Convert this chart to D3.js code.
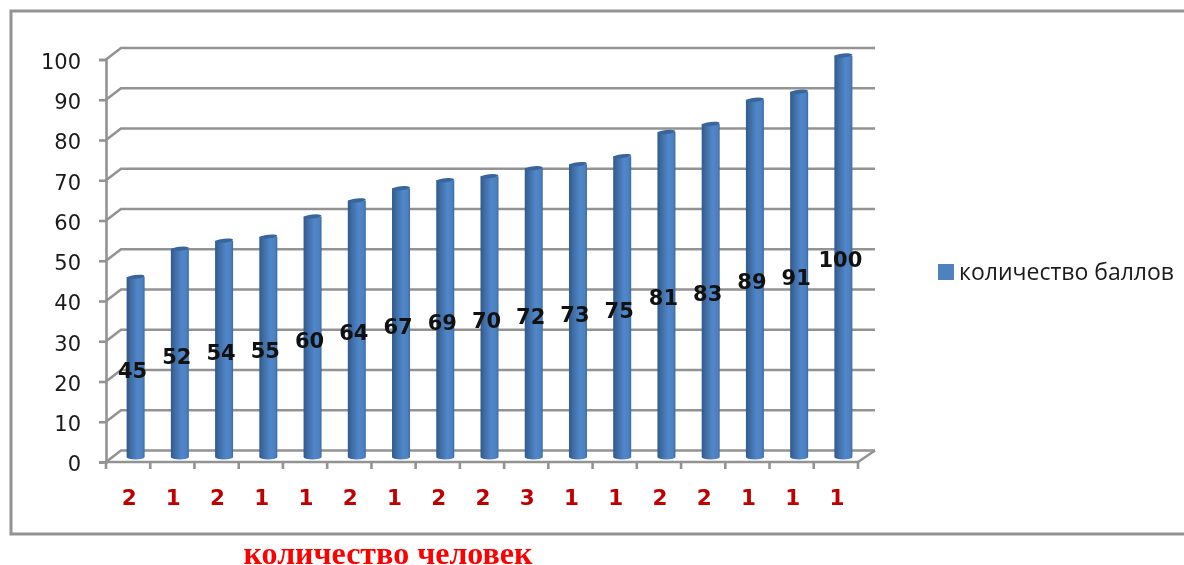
<!DOCTYPE html>
<html>
<head>
<meta charset="utf-8">
<script src="https://cdn.jsdelivr.net/npm/d3@7"></script>
<style>
  body { margin: 0; background: #fff; overflow: hidden; }
  svg { display: block; filter: blur(0.4px); }
  text { font-family: "DejaVu Sans", sans-serif; }
</style>
</head>
<body>
<div id="chart"></div>
<script>
// values
const scores = [45, 52, 54, 55, 60, 64, 67, 69, 70, 72, 73, 75, 81, 83, 89, 91, 100];
const people = [2, 1, 2, 1, 1, 2, 1, 2, 2, 3, 1, 1, 2, 2, 1, 1, 1];
const yTicks = [0, 10, 20, 30, 40, 50, 60, 70, 80, 90, 100];
const seriesName = "количество баллов";
const xTitle = "количество человек";

const svgWidth = 1184;
const svgHeight = 565;

// front plane of the fake 3d box
const plot = { left: 106, right: 858, top: 59.5, bottom: 462 };
// how far the back wall is shifted from the front
const depth = { x: 15, y: -11.5 };
// bars stand in the middle of the floor
const barShift = { x: 7.5, y: -4 };

const svg = d3.select("#chart")
  .append("svg")
  .attr("width", svgWidth)
  .attr("height", svgHeight);

const defs = svg.append("defs");

const barGrad = defs.append("linearGradient").attr("id", "barGrad");
barGrad.append("stop").attr("offset", "0%").attr("stop-color", "#315a8c");
barGrad.append("stop").attr("offset", "28%").attr("stop-color", "#4270a8");
barGrad.append("stop").attr("offset", "62%").attr("stop-color", "#5087cb");
barGrad.append("stop").attr("offset", "88%").attr("stop-color", "#4c80bf");
barGrad.append("stop").attr("offset", "100%").attr("stop-color", "#3a6a9f");

const xScale = d3.scaleBand()
  .domain(d3.range(scores.length))
  .range([plot.left, plot.right]);

const yScale = d3.scaleLinear()
  .domain([0, 100])
  .range([plot.bottom, plot.top]);

const gray = "#939393";

// outer frame, runs off the right side of the page
svg.append("path")
  .attr("d", "M" + svgWidth + ",11H11V534H" + svgWidth)
  .attr("fill", "none")
  .attr("stroke", gray)
  .attr("stroke-width", 3);

// gridlines with the little diagonal from the front axis to the back wall
const gridGroup = svg.append("g");
gridGroup.selectAll("path")
  .data(yTicks)
  .enter()
  .append("path")
  .attr("d", d => `M${plot.left},${yScale(d)}l${depth.x},${depth.y}H${plot.right + depth.x + 2}`)
  .attr("fill", "none")
  .attr("stroke", gray)
  .attr("stroke-width", 2.6);

// floor right edge
svg.append("line")
  .attr("x1", plot.right)
  .attr("y1", plot.bottom)
  .attr("x2", plot.right + depth.x + 2)
  .attr("y2", plot.bottom + depth.y)
  .attr("stroke", gray)
  .attr("stroke-width", 2.6);

// y axis
const yAxis = svg.append("g")
  .attr("transform", `translate(${plot.left},0)`)
  .call(d3.axisLeft(yScale).tickValues(yTicks).tickSize(7).tickPadding(18));
yAxis.selectAll("line").attr("stroke", gray).attr("stroke-width", 2.6);
yAxis.select(".domain").attr("stroke", gray).attr("stroke-width", 2.6);
yAxis.selectAll("text")
  .attr("font-size", 21)
  .attr("fill", "#1a1a1a")
  .attr("dy", "0.42em")
  .style("font-family", "'DejaVu Sans', sans-serif");

// x axis, ticks sit between the categories so it is done by hand
const xAxis = svg.append("g");
xAxis.append("line")
  .attr("x1", plot.left).attr("x2", plot.right)
  .attr("y1", plot.bottom).attr("y2", plot.bottom)
  .attr("stroke", gray).attr("stroke-width", 2.6);
xAxis.selectAll(".tick")
  .data(d3.range(scores.length + 1))
  .enter()
  .append("line")
  .attr("class", "tick")
  .attr("x1", d => plot.left + d * xScale.step())
  .attr("x2", d => plot.left + d * xScale.step())
  .attr("y1", plot.bottom)
  .attr("y2", plot.bottom + 7)
  .attr("stroke", gray)
  .attr("stroke-width", 2.6);

xAxis.selectAll(".people")
  .data(people)
  .enter()
  .append("text")
  .attr("class", "people")
  .attr("x", (d, i) => xScale(i) + xScale.bandwidth() / 2 + 1)
  .attr("y", 505)
  .attr("text-anchor", "middle")
  .attr("font-size", 21.5)
  .attr("font-weight", "bold")
  .attr("fill", "#c00000")
  .text(d => d);

// cylinders
const barWidth = 18;
const barsGroup = svg.append("g");
const barX = i => xScale(i) + xScale.bandwidth() / 2 + barShift.x;
const barY = v => yScale(v) + barShift.y;

barsGroup.selectAll("path.bar")
  .data(scores)
  .enter()
  .append("path")
  .attr("class", "bar")
  .attr("d", (d, i) => {
    const l = barX(i) - barWidth / 2;
    return `M${l},${barY(d)}V${barY(0) - 1}` +
      `A${barWidth / 2},2.4 0 0 0 ${l + barWidth},${barY(0) - 1}V${barY(d)}Z`;
  })
  .attr("fill", "url(#barGrad)");

barsGroup.selectAll("ellipse")
  .data(scores)
  .enter()
  .append("ellipse")
  .attr("cx", (d, i) => barX(i))
  .attr("cy", d => barY(d))
  .attr("rx", barWidth / 2)
  .attr("ry", 2)
  .attr("transform", (d, i) => `rotate(-6 ${barX(i)} ${barY(d)})`)
  .attr("fill", "#37659c");

// value labels in the middle of each bar
svg.append("g").selectAll("text")
  .data(scores)
  .enter()
  .append("text")
  .attr("x", (d, i) => barX(i) - 3)
  .attr("y", d => (barY(d) + barY(0)) / 2 + 10.5)
  .attr("text-anchor", "middle")
  .attr("font-size", 21)
  .attr("font-weight", "bold")
  .attr("fill", "#111")
  .text(d => d);

// legend
svg.append("rect")
  .attr("x", 938).attr("y", 264)
  .attr("width", 16).attr("height", 16)
  .attr("fill", "#4f81bd");
svg.append("text")
  .attr("x", 959).attr("y", 280)
  .attr("font-size", 23)
  .attr("fill", "#1a1a1a")
  .style("font-family", "'Open Sans', sans-serif")
  .text(seriesName);

// axis title, the reference has it touching the bottom edge too
svg.append("text")
  .attr("x", 388).attr("y", 564)
  .attr("text-anchor", "middle")
  .attr("font-size", 32)
  .attr("font-weight", "bold")
  .attr("fill", "#ff0000")
  .style("font-family", "'Liberation Serif', serif")
  .text(xTitle);
</script>
</body>
</html>
